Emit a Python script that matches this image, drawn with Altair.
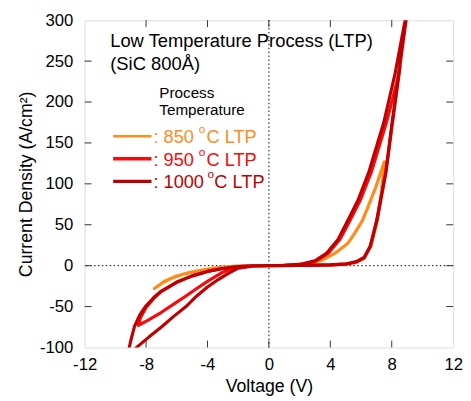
import altair as alt
import pandas as pd

# ---- data ----
series_names = ["850", "950", "1000"]
series_colors = ["#FF8C1A", "#F80A0A", "#C00000"]

v850 = [0, 1, 2, 3, 4, 5, 5.7, 6.2, 6.62, 7.05, 7.3, 7.52,
        6.94, 6.5, 6.09, 5.6, 5.13, 4.28, 3.5, 2.5, 1.5, 0,
        -1, -2, -2.85, -3.6, -4.38, -5.2, -6.05, -6.8, -7.46,
        -7.0, -6.3, -5.5, -4.6, -3.6, -2.6, -1.5, 0]
j850 = [0, 0.2, 0.4, 0.6, 0.9, 1.8, 4, 9, 23, 55, 85, 127,
        95, 74, 55, 40, 27, 15, 7, 2.5, 0.7, 0,
        -0.2, -0.6, -1.5, -3, -5.5, -8.5, -13, -19, -28,
        -22, -15, -10, -6.5, -3.5, -1.5, -0.4, 0]

v950 = [0, 2, 4, 5, 5.7, 6.2, 6.62, 7.05, 7.63, 8.05, 8.54,
        8.3, 7.65, 6.68, 5.95, 5.27, 4.62, 3.85, 3.1, 2.1, 1, 0,
        -1, -2.3, -3, -3.9, -4.7, -5.4, -6.2, -7, -7.8, -8.5,
        -8.35, -8.0, -7.5, -7.0, -6, -5, -4, -3, -2, -1, 0]
j950 = [0, 0.4, 0.9, 1.8, 4.5, 9.5, 24, 56, 115, 175, 243,
        222, 175, 115, 80, 55, 32, 15, 6, 1.5, 0.3, 0,
        -0.3, -2.5, -8, -18, -28, -37, -47, -57, -66, -73,
        -63, -51, -40, -31.5, -20.5, -12.5, -7, -3.5, -1, -0.2, 0]

v1000 = [0, 2, 4, 5, 5.7, 6.2, 6.6, 7.0, 7.6, 8.0, 8.5, 9.02,
         8.82, 8.22, 7.48, 6.52, 5.8, 5.13, 4.5, 3.74, 3, 2, 1, 0,
         -1, -2, -2.7, -3.3, -4, -4.7, -5.4, -6.2, -7, -7.8, -8.5, -9.1, -9.25,
         -9.15, -9.0, -8.75, -8.4, -8.0, -7.5, -7.0, -6.0, -5.0, -4.0, -3.0, -2.0, -1, 0]
j1000 = [0, 0.4, 1, 2, 5, 10, 24, 54, 113, 172, 240, 312,
         295, 235, 175, 115, 80, 55, 32, 15, 6, 1.5, 0.3, 0,
         -0.4, -3, -10, -17, -26, -37, -50, -62, -75, -87, -98, -108, -115,
         -105, -92, -74, -60, -49, -39, -31, -20, -12.5, -7, -3.5, -1, -0.2, 0]

x_ticks = [-12, -8, -4, 0, 4, 8, 12]
y_ticks = [-100, -50, 0, 50, 100, 150, 200, 250, 300]
x_inner_ticks = [-8, -4, 0, 4, 8]
y_inner_ticks = [-50, 0, 50, 100, 150, 200, 250]

W, H = 375, 333
FONT = "Liberation Sans"

rows = []
for name, vs, js in [("850", v850, j850), ("950", v950, j950), ("1000", v1000, j1000)]:
    for i, (v, j) in enumerate(zip(vs, js)):
        rows.append({"series": name, "V": v, "J": j, "idx": i})
df = pd.DataFrame(rows)

xscale = alt.Scale(domain=[-12, 12], nice=False, zero=False)
yscale = alt.Scale(domain=[-100, 300], nice=False, zero=False)

lab = "'' + datum.value"
xaxis = alt.Axis(values=x_ticks, title="Voltage (V)", grid=False, ticks=False, domain=False,
                 labelFontSize=17, titleFontSize=18, labelFont=FONT, titleFont=FONT,
                 labelColor="black", titleColor="black", labelPadding=9, titlePadding=6,
                 labelExpr=lab, titleFontWeight="normal", labelFlush=False)
yaxis = alt.Axis(values=y_ticks, title="Current Density (A/cm²)", grid=False, ticks=False, domain=False,
                 labelFontSize=17, titleFontSize=18, labelFont=FONT, titleFont=FONT,
                 labelColor="black", titleColor="black", labelPadding=12, titlePadding=4,
                 labelExpr=lab, titleFontWeight="normal", labelFlush=False)

curves = alt.Chart(df).mark_line(clip=True, strokeWidth=3.2, strokeJoin="round", strokeCap="round").encode(
    x=alt.X("V:Q", scale=xscale, axis=xaxis),
    y=alt.Y("J:Q", scale=yscale, axis=yaxis),
    color=alt.Color("series:N", scale=alt.Scale(domain=series_names, range=series_colors), legend=None),
    order="idx:Q",
)

zero_x = alt.Chart(pd.DataFrame({"V": [0]})).mark_rule(color="black", strokeWidth=1, strokeDash=[1.5, 2.5]).encode(
    x=alt.X("V:Q", scale=xscale))
zero_y = alt.Chart(pd.DataFrame({"J": [0]})).mark_rule(color="black", strokeWidth=1, strokeDash=[1.5, 2.5]).encode(
    y=alt.Y("J:Q", scale=yscale))

xt = pd.DataFrame({"V": x_inner_ticks})
yt = pd.DataFrame({"J": y_inner_ticks})
tick_style = dict(color="#333333", strokeWidth=1)
xt_bottom = alt.Chart(xt).mark_rule(**tick_style).encode(
    x=alt.X("V:Q", scale=xscale), y=alt.value(H), y2=alt.value(H - 7))
xt_top = alt.Chart(xt).mark_rule(**tick_style).encode(
    x=alt.X("V:Q", scale=xscale), y=alt.value(0), y2=alt.value(7))
yt_left = alt.Chart(yt).mark_rule(**tick_style).encode(
    y=alt.Y("J:Q", scale=yscale), x=alt.value(0), x2=alt.value(7))
yt_right = alt.Chart(yt).mark_rule(**tick_style).encode(
    y=alt.Y("J:Q", scale=yscale), x=alt.value(W), x2=alt.value(W - 7))

def txt(s, x, y, size, color="black", align="left"):
    return alt.Chart(pd.DataFrame({"t": [s]})).mark_text(
        align=align, baseline="middle", font=FONT, fontSize=size, color=color
    ).encode(text="t:N", x=alt.value(x), y=alt.value(y))

texts = [
    txt("Low Temperature Process (LTP)", 26, 21, 18.7),
    txt("(SiC 800Å)", 26, 45, 18.7),
    txt("Process", 76, 74, 15.5),
    txt("Temperature", 76, 91, 15.5),
]
legend_rows = [
    (": 850", "C LTP", 118, series_colors[0], 2.5, 116, 124),
    (": 950", "C LTP", 141, series_colors[1], 3.5, 116, 124),
    (": 1000", "C LTP", 164, series_colors[2], 3.5, 125, 132),
]
for lbl, tail, y, col, sw, ox, cx in legend_rows:
    texts.append(alt.Chart(pd.DataFrame({"a": [0]})).mark_rule(color=col, strokeWidth=sw).encode(
        x=alt.value(29), x2=alt.value(68), y=alt.value(y)))
    texts.append(txt(lbl, 70, y + 1, 18.5, col))
    texts.append(txt("o", ox, y - 7, 12, col))
    texts.append(txt(tail, cx, y + 1, 18.5, col))

chart = alt.layer(
    zero_x, zero_y, xt_bottom, xt_top, yt_left, yt_right, curves, *texts
).properties(
    width=W, height=H, padding={"left": 9, "top": 0, "right": 0, "bottom": 0}
).configure_view(
    stroke="black", strokeWidth=4
).configure(background="white")

chart.save("out.html", embed_options={"renderer": "svg", "actions": False})
